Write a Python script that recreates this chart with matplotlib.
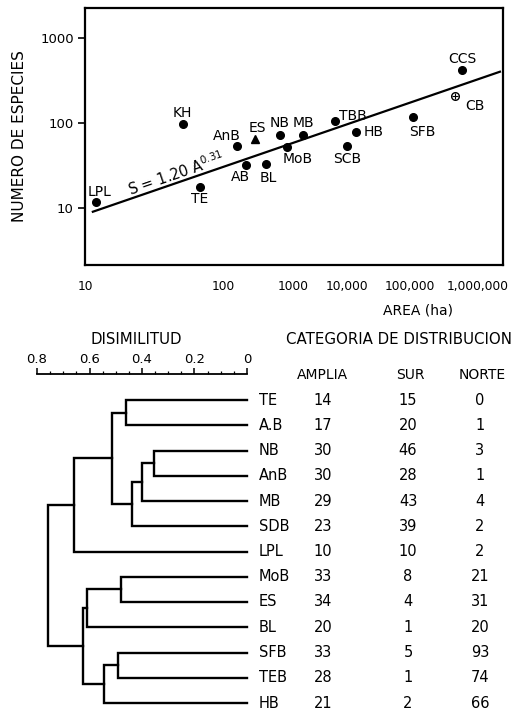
import numpy as np
import matplotlib
matplotlib.use("Agg")
from matplotlib import pyplot as plt
from matplotlib.ticker import FixedLocator, NullLocator, MultipleLocator

plt.rcParams['font.family'] = ['DejaVu Sans']

# species-area data
site_names = ["LPL", "KH", "TE", "AnB", "AB", "ES", "BL", "NB", "MoB", "MB",
              "TBB", "SCB", "HB", "SFB", "CB", "CCS"]
site_area = [12, 51, 68, 158, 213, 287, 410, 650, 820, 1540,
             6000, 10000, 14000, 110000, 460000, 580000]
site_species = [12, 98, 18, 54, 32, 65, 33, 73, 53, 72,
                105, 54, 78, 117, 210, 420]

# fitted line S = 1.20 A^0.31 as drawn (end points)
fit_area = [11.4, 2100000]
fit_species = [9.1, 404]

x_ticks = [10, 100, 1000, 10000, 100000, 1000000]
x_tick_labels = ["10", "100", "1000", "10,000", "100,000", "1,000,000"]
y_ticks = [10, 100, 1000]

# dendrogram + table
leaf_names = ["TE", "A.B", "NB", "AnB", "MB", "SDB", "LPL",
              "MoB", "ES", "BL", "SFB", "TEB", "HB"]
amplia = [14, 17, 30, 30, 29, 23, 10, 33, 34, 20, 33, 28, 21]
sur = [15, 20, 46, 28, 43, 39, 10, 8, 4, 1, 5, 1, 2]
norte = [0, 1, 3, 1, 4, 2, 2, 21, 31, 20, 93, 74, 66]
# merges (child a, child b, dissimilarity); ids >= 13 are earlier merges
merges = [(2, 3, 0.354), (13, 4, 0.40), (14, 5, 0.44), (0, 1, 0.46),
          (16, 15, 0.515), (17, 6, 0.66), (7, 8, 0.48), (19, 9, 0.61),
          (10, 11, 0.49), (21, 12, 0.545), (20, 22, 0.625), (18, 23, 0.76)]

W, H = 514, 712
fig = plt.figure(figsize=(W / 100, H / 100), dpi=100)


def px(x, y):
    return x / W, 1 - y / H


def rect(x0, y0, x1, y1):
    return [x0 / W, 1 - y1 / H, (x1 - x0) / W, (y1 - y0) / H]


# ---- top: species-area plot ----
ax = fig.add_axes(rect(85, 8, 503, 265))

# the scan's area axis is log, but the decade labels are unevenly spaced
area_knots = np.log10([1, 10, 100, 1000, 1e4, 1e5, 1e6, 1e7])
pos_knots = [-53, 85, 223, 293, 347, 410, 478, 546]


def fwd(a):
    return np.interp(np.log10(np.clip(a, 1e-9, None)), area_knots, pos_knots)


def inv(p):
    return 10 ** np.interp(p, pos_knots, area_knots)


ax.set_xscale('function', functions=(fwd, inv))
ax.set_yscale('log')
ax.set_xlim(10, 2.33e6)
ax.set_ylim(2.15, 2270)

ax.plot(fit_area, fit_species, color='black', lw=1.6)

special = {"ES": "^", "CB": "circled"}
offsets = {"LPL": (4, 10), "KH": (0, 11), "TE": (0, -12), "AnB": (-10, 10),
           "AB": (-6, -12), "ES": (2, 11), "BL": (2, -14), "NB": (0, 12),
           "MoB": (11, -12), "MB": (0, 12), "TBB": (18, 5), "SCB": (0, -13),
           "HB": (17, 0), "SFB": (9, -15), "CB": (20, -10), "CCS": (0, 11)}
for name, a, s in zip(site_names, site_area, site_species):
    kind = special.get(name, "o")
    if kind == "circled":
        ax.plot(a, s, 'o', ms=5.5, mfc='white', mec='black', mew=1.0)
        ax.plot(a, s, '+', ms=4.5, color='black', mew=0.8)
    elif kind == "^":
        ax.plot(a, s, '^', ms=6, color='black')
    else:
        ax.plot(a, s, 'o', ms=5.5, color='black')
    ax.annotate(name, (a, s), xytext=offsets[name], textcoords='offset pixels',
                ha='center', va='center', fontsize=10)

ax.text(0.218, 0.355, r"S = 1.20 A$^{0.31}$", transform=ax.transAxes,
        rotation=19, ha='center', va='center', fontsize=10.5)

ax.xaxis.set_major_locator(FixedLocator(x_ticks))
ax.xaxis.set_minor_locator(NullLocator())
ax.set_xticklabels(x_tick_labels)
ax.tick_params(axis='x', length=0, pad=11, labelsize=8.8)
ax.yaxis.set_major_locator(FixedLocator(y_ticks))
ax.yaxis.set_minor_locator(NullLocator())
ax.set_yticklabels([str(v) for v in y_ticks])
ax.tick_params(axis='y', length=5, width=1.2, pad=3, labelsize=9.5)
for sp in ax.spines.values():
    sp.set_linewidth(1.6)

fig.text(*px(20, 136), "NUMERO DE ESPECIES", rotation=90, ha='center',
         va='center', fontsize=11)
fig.text(*px(418, 310), "AREA (ha)", ha='center', va='center', fontsize=10)

# ---- bottom: dendrogram ----
row0, step = 400, 25.25
y_top, y_bot = 390, 710
ylim = ((y_bot - row0) / step, (y_top - row0) / step)

axd = fig.add_axes(rect(37, y_top, 247, y_bot))
axd.set_xlim(0.8, 0)
axd.set_ylim(*ylim)
axd.axis('off')

n = len(leaf_names)
node_y = {i: float(i) for i in range(n)}
node_h = {i: 0.0 for i in range(n)}
for k, (a, b, h) in enumerate(merges):
    ya, yb = node_y[a], node_y[b]
    axd.plot([node_h[a], h, h, node_h[b]], [ya, ya, yb, yb],
             color='black', lw=1.7, solid_joinstyle='miter', clip_on=False)
    node_y[n + k] = (ya + yb) / 2
    node_h[n + k] = h

# dissimilarity ruler
axr = fig.add_axes([37 / W, 1 - 374 / H, 210 / W, 0.0001])
axr.set_xlim(0.8, 0)
axr.set_yticks([])
for side in ['left', 'right', 'bottom']:
    axr.spines[side].set_visible(False)
axr.spines['top'].set_linewidth(1.3)
axr.xaxis.set_ticks_position('top')
axr.xaxis.set_label_position('top')
axr.xaxis.set_major_locator(FixedLocator([0.8, 0.6, 0.4, 0.2, 0]))
axr.set_xticklabels(["0.8", "0.6", "0.4", "0.2", "0"])
axr.xaxis.set_minor_locator(MultipleLocator(0.05))
axr.tick_params(axis='x', which='major', direction='out', length=4,
                width=1.1, pad=2, labelsize=9.5)
axr.tick_params(axis='x', which='minor', direction='out', length=2.5, width=0.9)

fig.text(*px(136, 339), "DISIMILITUD", ha='center', va='center', fontsize=10.8)

# ---- table ----
axt = fig.add_axes(rect(250, y_top, 514, y_bot))
axt.set_xlim(250, 514)
axt.set_ylim(*ylim)
axt.axis('off')

fig.text(*px(399, 339), "CATEGORIA DE DISTRIBUCION", ha='center',
         va='center', fontsize=10.8)
for label, cx in zip(["AMPLIA", "SUR", "NORTE"], [322, 410, 482]):
    fig.text(*px(cx, 375), label, ha='center', va='center', fontsize=10)

for i, name in enumerate(leaf_names):
    axt.text(259, i, name, ha='left', va='center', fontsize=10.5)
    axt.text(323, i, str(amplia[i]), ha='center', va='center', fontsize=10.5)
    axt.text(408, i, str(sur[i]), ha='center', va='center', fontsize=10.5)
    axt.text(480, i, str(norte[i]), ha='center', va='center', fontsize=10.5)

fig.savefig("out.png", dpi=100)
